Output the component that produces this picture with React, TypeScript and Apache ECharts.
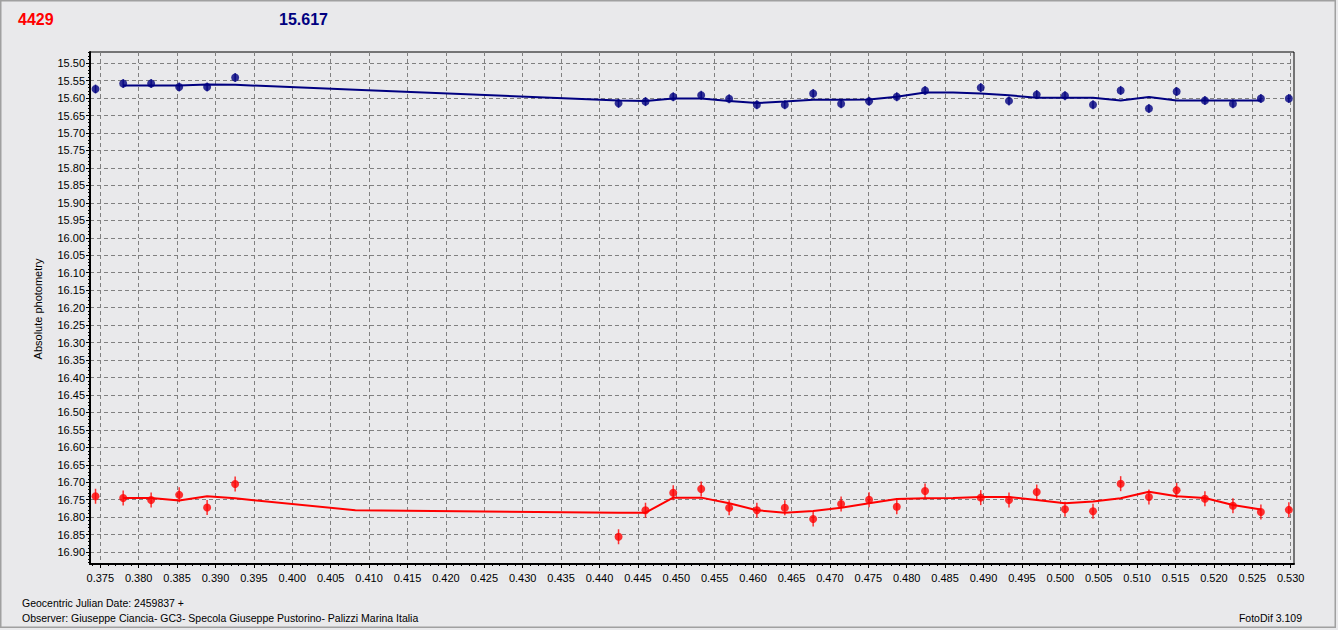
import React, { useEffect, useRef } from "react";
import * as echarts from "echarts";

// Observation times (fraction of day after JD 2459837)
const obsX = [0.37438, 0.37798, 0.38162, 0.38527, 0.38891, 0.39256, 0.44248, 0.44599, 0.44960, 0.45324, 0.45688, 0.46049, 0.46413, 0.46782, 0.47146, 0.47510, 0.47871, 0.48239, 0.48964, 0.49332, 0.49693, 0.50061, 0.50426, 0.50786, 0.51154, 0.51515, 0.51883, 0.52248, 0.52612, 0.52976];
// Target (red) magnitudes
const redMag = [16.740, 16.745, 16.751, 16.736, 16.772, 16.705, 16.856, 16.780, 16.730, 16.719, 16.773, 16.780, 16.773, 16.805, 16.762, 16.750, 16.770, 16.725, 16.744, 16.751, 16.728, 16.777, 16.783, 16.704, 16.742, 16.723, 16.747, 16.767, 16.785, 16.779];
// Comparison (blue) magnitudes
const blueMag = [15.574, 15.558, 15.558, 15.568, 15.568, 15.541, 15.615, 15.610, 15.596, 15.592, 15.602, 15.619, 15.619, 15.587, 15.616, 15.609, 15.596, 15.578, 15.570, 15.608, 15.590, 15.593, 15.619, 15.578, 15.630, 15.581, 15.607, 15.616, 15.601, 15.601];
// Smoothed curves
const fitX = [0.37798, 0.38162, 0.38527, 0.38891, 0.39256, 0.40821, 0.44248, 0.44599, 0.44960, 0.45324, 0.45688, 0.46049, 0.46413, 0.46782, 0.47146, 0.47510, 0.47871, 0.48239, 0.48604, 0.48964, 0.49332, 0.49693, 0.50061, 0.50426, 0.50786, 0.51154, 0.51515, 0.51883, 0.52248, 0.52612];
const redFit = [16.745, 16.745, 16.752, 16.740, 16.746, 16.780, 16.787, 16.787, 16.744, 16.744, 16.760, 16.780, 16.787, 16.782, 16.773, 16.760, 16.748, 16.746, 16.745, 16.742, 16.742, 16.751, 16.760, 16.755, 16.746, 16.727, 16.740, 16.745, 16.765, 16.778];
const blueFit = [15.564, 15.564, 15.564, 15.561, 15.562, 15.576, 15.607, 15.608, 15.601, 15.601, 15.608, 15.614, 15.610, 15.605, 15.605, 15.604, 15.596, 15.584, 15.584, 15.587, 15.592, 15.599, 15.599, 15.599, 15.607, 15.597, 15.607, 15.607, 15.607, 15.607];

// Axis ticks
const yTicks = Array.from({ length: 29 }, (_, i) => (1550 + i * 5) / 100);
const xTicks = Array.from({ length: 32 }, (_, i) => (375 + i * 5) / 1000);
const yMinor = Array.from({ length: 147 }, (_, i) => (1547 + i) / 100).filter((v, i) => (1547 + i) % 5 !== 0);
const xMinor = Array.from({ length: 157 }, (_, i) => (374 + i) / 1000).filter((v, i) => (374 + i) % 5 !== 0);

const titleLeft = "4429";
const titleRight = "15.617";
const yName = "Absolute photometry";
const footer1 = "Geocentric Julian Date: 2459837 +";
const footer2 = "Observer: Giuseppe Ciancia- GC3- Specola Giuseppe Pustorino- Palizzi Marina Italia";
const footerRight = "FotoDif 3.109";

const FONT = "Liberation Sans, Arial, sans-serif";
const X_MIN = 0.37366, X_MAX = 0.53043, Y_MIN = 15.468, Y_MAX = 16.934;

export default function App() {
  const ref = useRef<HTMLDivElement>(null);
  useEffect(() => {
    const chart = echarts.init(ref.current!, null, { renderer: "svg" });
    const pts = (xs: number[], ys: number[]) => xs.map((x, i) => [x, ys[i]]);
    chart.setOption({
      animation: false,
      backgroundColor: "#e9e9eb",
      grid: { left: 90, right: 44, top: 52, bottom: 66, show: true, borderColor: "#000", borderWidth: 1, backgroundColor: "transparent" },
      xAxis: [
        {
          type: "value", min: X_MIN, max: X_MAX, position: "bottom",
          axisLine: { show: true, lineStyle: { color: "#000", width: 2 } },
          axisTick: { show: true, customValues: xTicks, length: 4, lineStyle: { color: "#000" } },
          axisLabel: { customValues: xTicks, formatter: (v: number) => v.toFixed(3), color: "#000", fontFamily: FONT, fontSize: 11, margin: 8 },
          splitLine: { show: true, lineStyle: { color: "#808080", type: [4, 3], width: 1 } },
        },
        {
          type: "value", min: X_MIN, max: X_MAX, position: "bottom", gridIndex: 0,
          axisLine: { show: false }, axisLabel: { show: false }, splitLine: { show: false },
          axisTick: { show: true, customValues: xMinor, length: 2, lineStyle: { color: "#000" } },
        },
      ],
      yAxis: [
        {
          type: "value", min: Y_MIN, max: Y_MAX, inverse: true, position: "left",
          axisLine: { show: true, lineStyle: { color: "#000", width: 2 } },
          axisTick: { show: true, customValues: yTicks, length: 4, lineStyle: { color: "#000" } },
          axisLabel: { customValues: yTicks, formatter: (v: number) => v.toFixed(2), color: "#000", fontFamily: FONT, fontSize: 11, margin: 5 },
          splitLine: { show: true, lineStyle: { color: "#808080", type: [4, 3], width: 1 } },
        },
        {
          type: "value", min: Y_MIN, max: Y_MAX, inverse: true, position: "left", gridIndex: 0,
          axisLine: { show: false }, axisLabel: { show: false }, splitLine: { show: false },
          axisTick: { show: true, customValues: yMinor, length: 2, lineStyle: { color: "#000" } },
        },
      ],
      graphic: [
        { type: "rect", shape: { x: 0.75, y: 0.75, width: 1334.5, height: 626.5 }, style: { fill: "none", stroke: "#a0a0a0", lineWidth: 1.5 }, silent: true },
        { type: "text", x: 18, y: 19, style: { text: titleLeft, font: `bold 16px ${FONT}`, fill: "#ff0000", verticalAlign: "middle" } },
        { type: "text", x: 279, y: 19, style: { text: titleRight, font: `bold 16px ${FONT}`, fill: "#000080", verticalAlign: "middle" } },
        { type: "text", x: 38, y: 309, rotation: Math.PI / 2, style: { text: yName, font: `11px ${FONT}`, fill: "#000", align: "center", verticalAlign: "middle" } },
        { type: "text", x: 22, y: 603, style: { text: footer1, font: `10.5px ${FONT}`, fill: "#000", verticalAlign: "middle" } },
        { type: "text", x: 22, y: 618, style: { text: footer2, font: `10.5px ${FONT}`, fill: "#000", verticalAlign: "middle" } },
        { type: "text", x: 1302, y: 618, style: { text: footerRight, font: `10.5px ${FONT}`, fill: "#000", align: "right", verticalAlign: "middle" } },
      ],
      series: [
        { type: "line", data: pts(fitX, redFit), symbol: "none", silent: true, lineStyle: { color: "#ff0000", width: 2 }, z: 2 },
        { type: "line", data: pts(fitX, blueFit), symbol: "none", silent: true, lineStyle: { color: "#000080", width: 2 }, z: 2 },
        { type: "scatter", data: pts(obsX, redMag), symbol: "rect", symbolSize: [1.5, 15], silent: true, itemStyle: { color: "#ff0000" }, z: 3 },
        { type: "scatter", data: pts(obsX, redMag), symbol: "circle", symbolSize: 8, silent: true, itemStyle: { color: "#ff0000" }, z: 4 },
        { type: "scatter", data: pts(obsX, blueMag), symbol: "rect", symbolSize: [1.5, 9], silent: true, itemStyle: { color: "#000080" }, z: 3 },
        { type: "scatter", data: pts(obsX, blueMag), symbol: "circle", symbolSize: 8, silent: true, itemStyle: { color: "#000080" }, z: 4 },
      ],
    });
    return () => chart.dispose();
  }, []);
  return <div ref={ref} style={{ position: "fixed", left: 0, top: 0, width: 1338, height: 630 }} />;
}
